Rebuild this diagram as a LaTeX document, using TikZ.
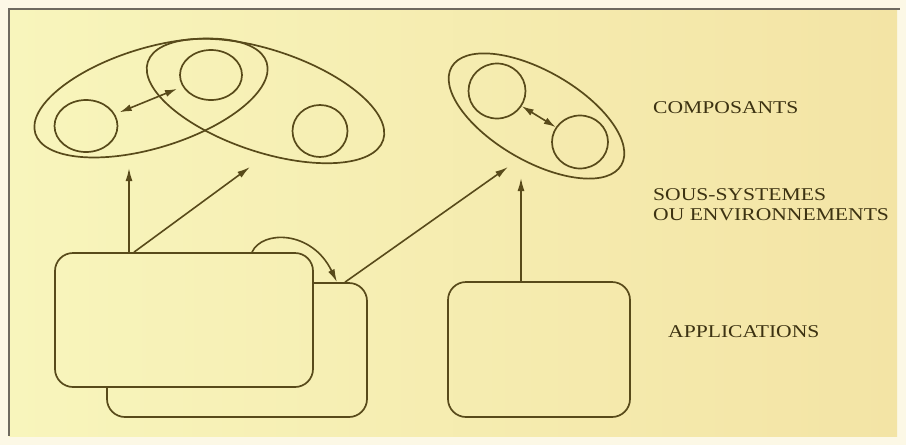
\documentclass[tikz,border=0pt]{standalone}
\usepackage{fontspec}
\usetikzlibrary{shapes.geometric,arrows.meta}
\newfontfamily\labelfont[FakeStretch=1.2]{Liberation Serif}
\definecolor{bgL}{RGB}{248,245,188}
\definecolor{bgR}{RGB}{243,228,165}
\definecolor{outer}{RGB}{252,248,230}
\definecolor{ink}{RGB}{88,74,26}
\definecolor{txt}{RGB}{60,50,18}
\definecolor{frame}{RGB}{110,106,96}
\tikzset{
  shapeline/.style={draw=ink, line width=1.7pt},
  oval/.style={shapeline, ellipse, inner sep=0pt},
  box/.style={shapeline, rectangle, rounded corners=18pt, inner sep=0pt},
  arr/.style={draw=ink, line width=1.6pt, -{Latex[length=13pt,width=7pt]}},
  dbl/.style={draw=ink, line width=1.6pt, {Latex[length=12pt,width=7pt]}-{Latex[length=12pt,width=7pt]}},
  lbl/.style={text=txt, font=\labelfont\fontsize{18}{20}\selectfont, anchor=west, align=left, inner sep=0pt}
}
\begin{document}
\begin{tikzpicture}[x=1pt,y=-1pt]
\useasboundingbox (0,0) rectangle (906,445);
\fill[outer] (0,0) rectangle (906,445);
\shade[left color=bgL, right color=bgR] (9,9) rectangle (897,436);
\draw[frame, line width=1.8pt] (9,436) -- (9,9) -- (900,9);

% left group
\node[oval, minimum width=242pt, minimum height=100pt, rotate=17] (eA) at (151,98) {};
\node[oval, minimum width=248pt, minimum height=102pt, rotate=-18.4] (eB) at (265.5,101) {};
\node[oval, minimum width=63pt, minimum height=52pt] (cL) at (86,126) {};
\node[oval, minimum width=62pt, minimum height=50pt] (cM) at (211,75) {};
\node[oval, minimum width=55pt, minimum height=52pt] (cR) at (320,131) {};
\draw[dbl, shorten <=5pt, shorten >=6pt] (cL) -- (cM);

% right group
\node[oval, minimum width=196pt, minimum height=90pt, rotate=-30] (eR) at (536.5,116) {};
\node[oval, minimum width=57pt, minimum height=55pt] (cT) at (497,91) {};
\node[oval, minimum width=56pt, minimum height=53pt] (cB) at (580,142) {};
\draw[dbl] (cT) -- (cB);

% boxes
\node[box, minimum width=260pt, minimum height=134pt] (back) at (237,350) {};
\node[box, minimum width=258pt, minimum height=134pt, left color=bgR!5!bgL, right color=bgR!34!bgL] (front) at (184,320) {};
\node[box, minimum width=182pt, minimum height=135pt] (app) at (539,349.5) {};

% connectors
\coordinate (v1) at (129,168);
\coordinate (s2) at (134,0);
\coordinate (d2) at (250,167);
\coordinate (s3) at (345,0);
\coordinate (d3) at (508,167);
\coordinate (v4) at (521,178);
\coordinate (s5) at (252,0);
\coordinate (e5) at (337,0);
\draw[arr] (v1 |- front.north) -- (v1);
\draw[arr] (s2 |- front.north) -- (d2);
\draw[arr] (s3 |- back.north) -- (d3);
\draw[arr] (v4 |- app.north) -- (v4);
\draw[arr] (s5 |- front.north) .. controls (262,230) and (312,230) .. (e5 |- back.north);

% labels
\node[lbl] (lab1) at (653,108) {COMPOSANTS};
\node[lbl] (lab2) at (653,205) {SOUS-SYSTEMES\\OU ENVIRONNEMENTS};
\node[lbl] (lab3) at (668,332) {APPLICATIONS};
\end{tikzpicture}
\end{document}
